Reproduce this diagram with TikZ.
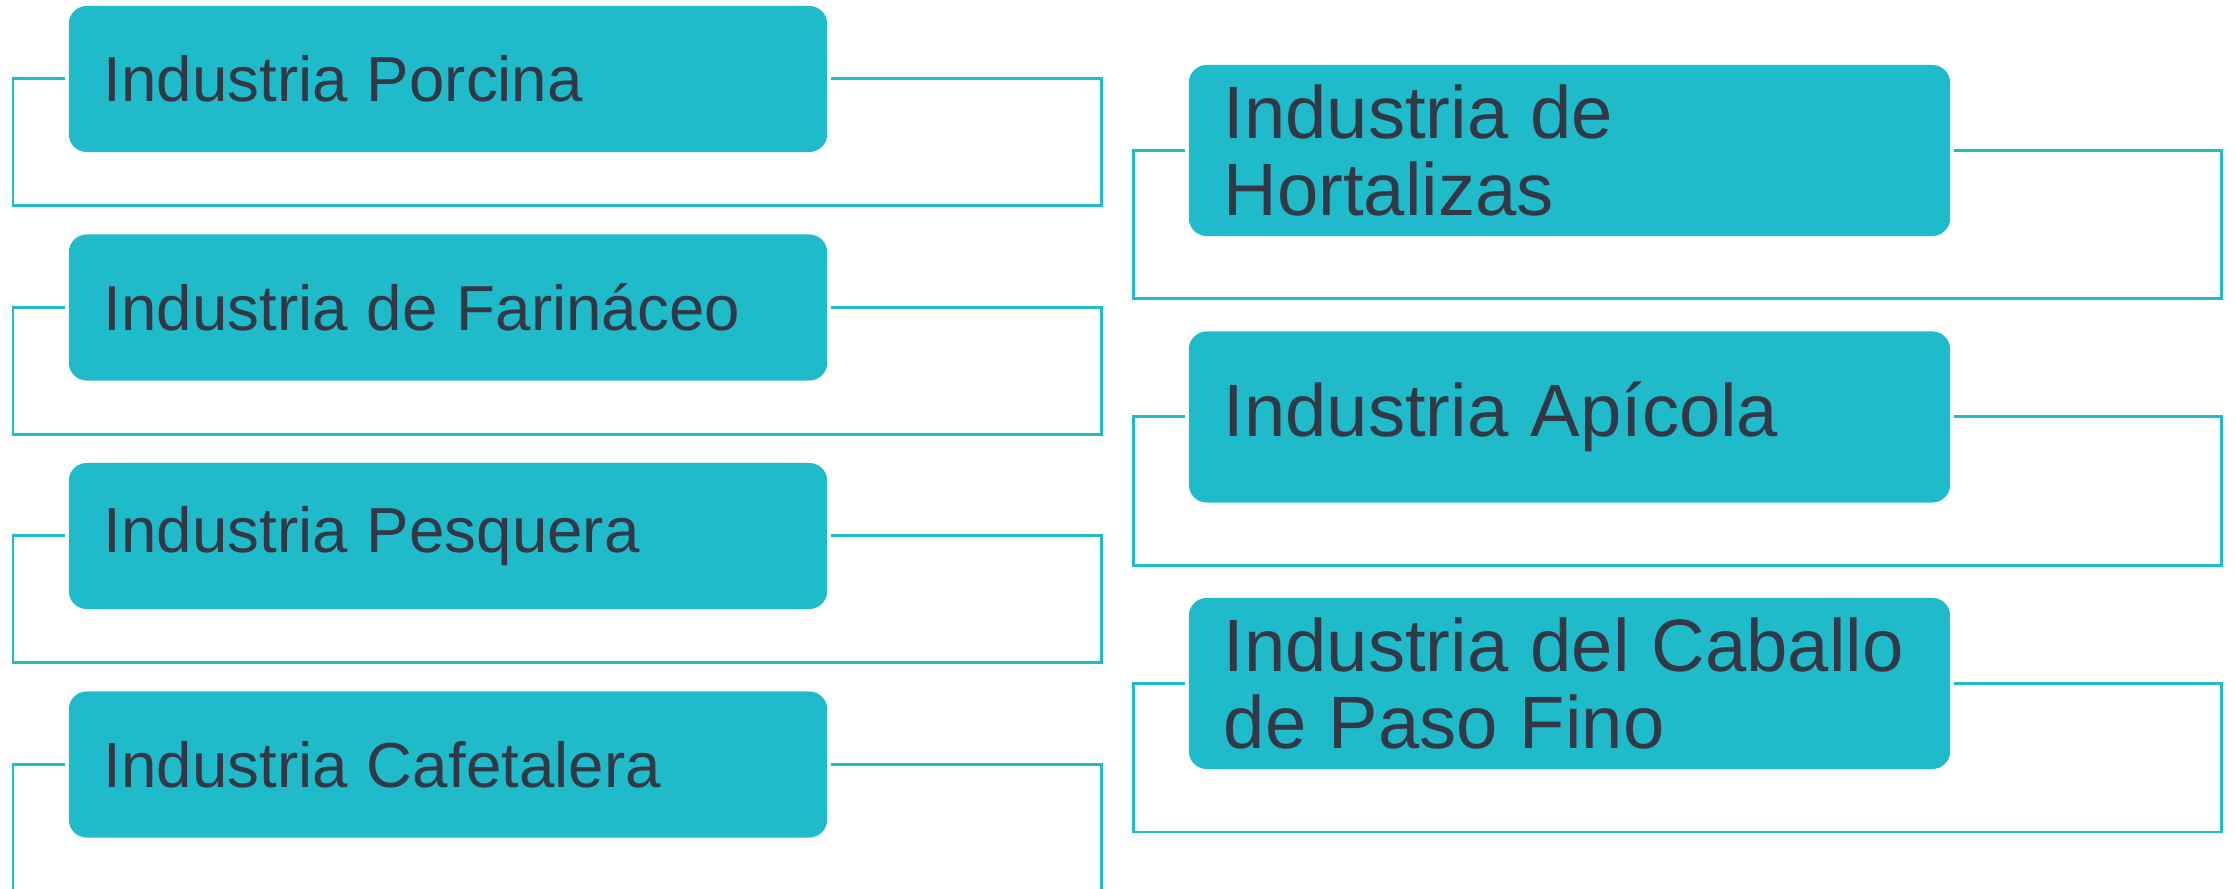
\documentclass[tikz,border=0pt]{standalone}
\usepackage{fontspec}
\setmainfont{Liberation Sans}
\usepackage{tikz}
\usetikzlibrary{positioning,calc}

\definecolor{tealbox}{RGB}{32,187,203}
\definecolor{darktxt}{RGB}{51,56,70}
\newcommand{\tightwords}{\spaceskip=0.3em\relax}

\tikzset{
  item/.style={rounded corners=0.18cm, fill=tealbox, text=darktxt, align=left,
    inner xsep=0.35cm, inner ysep=0pt},
  leftitem/.style={item, minimum width=7.58cm, text width=6.88cm, minimum height=1.46cm,
    font=\fontsize{18.1}{22}\selectfont},
  rightitem/.style={item, minimum width=7.61cm, text width=6.91cm, minimum height=1.71cm,
    font=\fontsize{21.1}{21.9}\selectfont},
  link/.style={draw=tealbox, line width=0.85pt, shorten <=0.03cm, shorten >=0.03cm}
}

\begin{document}
\begin{tikzpicture}[x=0.01cm,y=0.01cm]
    \useasboundingbox (0,0) rectangle (2236,-889);
    % left column
    \foreach \name/\txt [count=\i, evaluate=\i as \yc using -79-228.5*(\i-1)] in
      {porcina/Industria Porcina, farinaceo/Industria de Farináceo,
       pesquera/Industria Pesquera, cafetalera/Industria Cafetalera} {
      \node[leftitem] (\name) at (448,\yc) {\tightwords\txt};
      \draw[link] (\name.west) -| (13,\yc-127) -| (1101,\yc) -- (\name.east);
    }
    % right column
    \foreach \name/\txt [count=\i, evaluate=\i as \yc using -150.5-266.5*(\i-1)] in
      {hortalizas/{Industria de\\Hortalizas}, apicola/Industria Apícola,
       caballo/{Industria del Caballo\\de Paso Fino}} {
      \node[rightitem] (\name) at (1569.5,\yc) {\tightwords\txt};
      \draw[link] (\name.west) -| (1133,\yc-148.5) -| (2221,\yc) -- (\name.east);
    }
  \end{tikzpicture}
\end{document}
